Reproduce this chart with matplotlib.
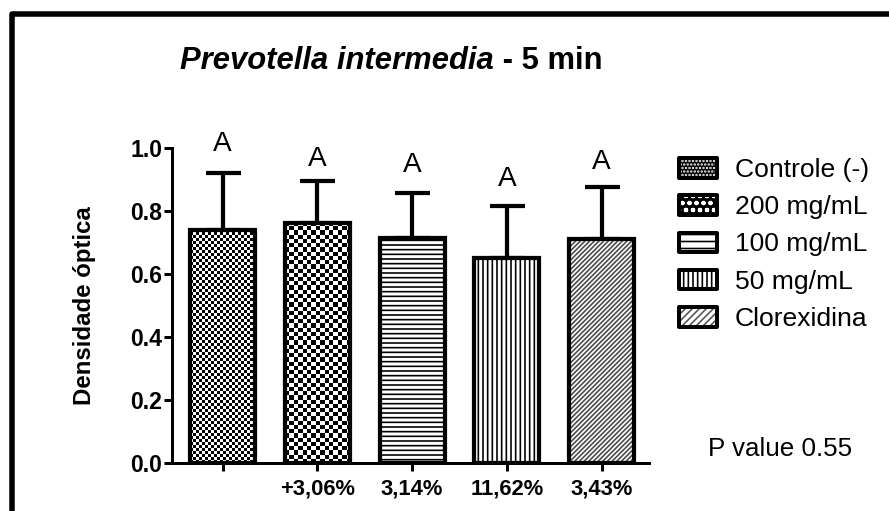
import numpy as np
import matplotlib
matplotlib.use("Agg")
import matplotlib.pyplot as plt
from matplotlib.patches import Rectangle
from matplotlib.legend_handler import HandlerBase

# ---------------- data ----------------
groups = ["Controle (-)", "200 mg/mL", "100 mg/mL", "50 mg/mL", "Clorexidina"]
means = [0.740, 0.762, 0.714, 0.652, 0.711]
sd_upper = [0.180, 0.134, 0.143, 0.164, 0.165]
xtick_labels = ["", "+3,06%", "3,14%", "11,62%", "3,43%"]
letters = ["A", "A", "A", "A", "A"]
letter_y = [0.971, 0.924, 0.905, 0.860, 0.914]
yticks = [0.0, 0.2, 0.4, 0.6, 0.8, 1.0]
title_italic = "Prevotella intermedia"
title_rest = " - 5 min"
ylabel = "Densidade óptica"
pvalue_text = "P value 0.55"

# ---------------- style ----------------
W, H, DPI = 889, 511, 84
plt.rcParams['font.family'] = ['Liberation Sans', 'DejaVu Sans']
plt.rcParams['hatch.linewidth'] = 1.4
plt.rcParams['hatch.color'] = 'black'

def px(v):  # pixels -> points
    return v * 72.0 / DPI

fig = plt.figure(figsize=(W / DPI, H / DPI), dpi=DPI)
ax_left, ax_right, ax_bottom, ax_top = 172, 649, 463, 148
ax = fig.add_axes([ax_left / W, 1 - ax_bottom / H,
                   (ax_right - ax_left) / W, (ax_bottom - ax_top) / H])

x = np.arange(len(groups))
xlim = (-0.533, 4.501)
ylim = (0.0, 1.0)
ax.set_xlim(*xlim)
ax.set_ylim(*ylim)
bar_w = 0.686
lw_bar = px(4.2)

# pattern specs: (kind, param, hatch colour)
patterns = [("checker", 3.0, None), ("checker", 4.2, None), ("hatch", "---", "black"),
            ("hatch", "|||", "black"), ("hatch", "//////", "#4a4a4a")]

bars = ax.bar(x, means, width=bar_w, facecolor='white', edgecolor='none', zorder=2)
for b, (kind, p, hc) in zip(bars, patterns):
    if kind == "hatch":
        b.set_hatch(p)
        b.set_edgecolor(hc)
        b.set_linewidth(0)

# checker images clipped to bars
fig.canvas.draw()
for b, (kind, p, hc) in zip(bars, patterns):
    if kind != "checker":
        continue
    x0, y0 = b.get_x(), b.get_y()
    x1, y1 = x0 + b.get_width(), y0 + b.get_height()
    p0 = ax.transData.transform((x0, y0))
    p1 = ax.transData.transform((x1, y1))
    ncols = max(1, int(round(abs(p1[0] - p0[0]) / p)))
    nrows = max(1, int(round(abs(p1[1] - p0[1]) / p)))
    img = np.add.outer(np.arange(nrows), np.arange(ncols)) % 2
    im = ax.imshow(img, extent=(x0, x1, y0, y1), origin='lower', cmap='gray',
                   vmin=0, vmax=1, interpolation='nearest', aspect='auto', zorder=2.5)
    im.set_clip_path(b)
ax.set_xlim(*xlim)
ax.set_ylim(*ylim)

# outlines
ax.bar(x, means, width=bar_w, fill=False, edgecolor='black', linewidth=lw_bar, zorder=3)

# error bars (upper only)
ax.errorbar(x, means, yerr=[np.zeros(len(means)), sd_upper], fmt='none', ecolor='black',
            elinewidth=px(4.2), capsize=px(17.5), capthick=px(4.2), zorder=1)

# letters
for xi, yi, t in zip(x, letter_y, letters):
    ax.text(xi, yi, t, ha='center', va='bottom', fontsize=px(28), clip_on=False)

# axes styling
for s in ['top', 'right']:
    ax.spines[s].set_visible(False)
for s in ['left', 'bottom']:
    ax.spines[s].set_linewidth(px(3))
ax.set_yticks(yticks)
ax.set_yticklabels([f"{v:.1f}" for v in yticks], fontsize=px(23), fontweight='bold')
ax.set_xticks(x)
ax.set_xticklabels(xtick_labels, fontsize=px(22), fontweight='bold')
ax.tick_params(axis='both', width=px(3), length=px(8), direction='out')
ax.tick_params(axis='y', pad=px(2))
ax.tick_params(axis='x', pad=px(8))
ax.set_ylabel(ylabel, fontsize=px(24), fontweight='bold', labelpad=px(34))

# title
t1 = fig.text(180 / W, 1 - 69 / H, title_italic, fontsize=px(31), fontweight='bold',
              fontstyle='italic', ha='left', va='baseline')
fig.canvas.draw()
ax.annotate(title_rest, xy=(1, 0), xycoords=t1, xytext=(0, 0), textcoords='offset points',
            fontsize=px(31), fontweight='bold', ha='left', va='bottom', annotation_clip=False)

# legend
legend_styles = [("black", "....", "white"), ("black", "oo", "white"),
                 ("white", "--", "black"), ("white", "|||", "black"), ("white", "////", "#555555")]

class BoxHandler(HandlerBase):
    def __init__(self, face, hatch, hcolor):
        super().__init__()
        self.face, self.hatch, self.hcolor = face, hatch, hcolor
    def create_artists(self, legend, orig_handle, xdescent, ydescent, width, height, fontsize, trans):
        base = Rectangle((-xdescent, -ydescent), width, height, facecolor=self.face,
                         edgecolor='none', transform=trans)
        hat = Rectangle((-xdescent, -ydescent), width, height, facecolor='none',
                        edgecolor=self.hcolor, linewidth=0, hatch=self.hatch, transform=trans)
        out = Rectangle((-xdescent, -ydescent), width, height, facecolor='none',
                        edgecolor='black', linewidth=px(4), joinstyle='round', transform=trans)
        return [base, hat, out]

handles = [Rectangle((0, 0), 1, 1) for _ in groups]
hmap = {h: BoxHandler(*st) for h, st in zip(handles, legend_styles)}
leg_px = 26.5
fig.legend(handles, groups, handler_map=hmap, loc='upper left',
           bbox_to_anchor=(679 / W, 1 - 158 / H), frameon=False, fontsize=px(leg_px),
           handlelength=38 / leg_px, handleheight=20 / leg_px, handletextpad=18 / leg_px,
           labelspacing=0.5, borderpad=0, borderaxespad=0)

# p value
fig.text(708 / W, 1 - 449 / H, pvalue_text, fontsize=px(26), ha='left', va='center')

# outer frame
fig.add_artist(Rectangle((12 / W, -0.2), 1.2, 1.2 - 14 / H, transform=fig.transFigure,
                         facecolor='none', edgecolor='black', linewidth=px(5.5),
                         joinstyle='round', clip_on=False))

fig.savefig("out.png", dpi=DPI)
